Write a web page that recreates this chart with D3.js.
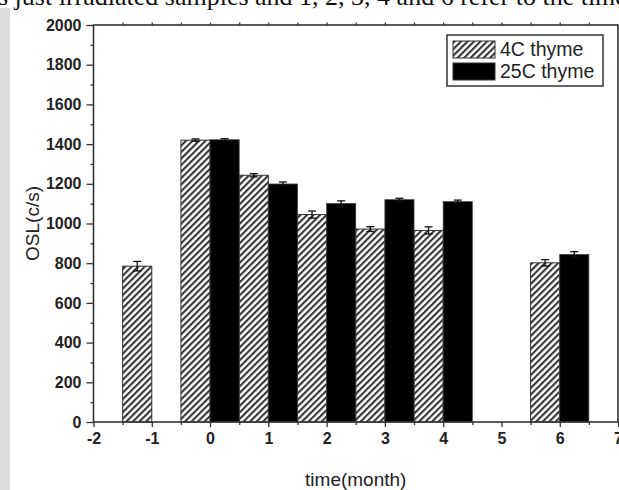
<!DOCTYPE html>
<html>
<head>
<meta charset="utf-8">
<script src="https://cdn.jsdelivr.net/npm/d3@7"></script>
<style>
  html, body { margin: 0; padding: 0; background: #fff; }
  svg { display: block; }
</style>
</head>
<body>
<svg id="chart" width="619" height="490"></svg>
<script>
// Sampling times (months) and OSL signal for the two storage temperatures
const months = [-1, 0, 1, 2, 3, 4, 6];
const cold = [785, 1420, 1243, 1045, 972, 965, 802];      // 4C thyme
const coldErr = [24, 6, 8, 18, 12, 18, 16];
const warm = [null, 1422, 1199, 1101, 1120, 1110, 844];   // 25C thyme
const warmErr = [null, 5, 10, 13, 7, 8, 14];
const seriesNames = ["4C thyme", "25C thyme"];
const xTicks = [-2, -1, 0, 1, 2, 3, 4, 5, 6, 7];
const yTicks = [0, 200, 400, 600, 800, 1000, 1200, 1400, 1600, 1800, 2000];
const captionText = "s just irradiated samples and 1, 2, 3, 4 and 6 refer to the time";

const svg = d3.select("#chart");
const ink = "#222";
const plotLeft = 93.5, plotRight = 618, plotTop = 25, plotBottom = 422;

const x = d3.scaleLinear().domain([-2, 7]).range([plotLeft, plotRight]);
const y = d3.scaleLinear().domain([0, 2000]).range([plotBottom, plotTop]);
const halfWidth = 0.5;

// page margin and running caption of the surrounding document
svg.append("rect").attr("x", 0).attr("y", 8).attr("width", 10).attr("height", 482).attr("fill", "#dcdcdc");
svg.append("text").attr("x", -2).attr("y", 5)
  .attr("font-family", "'Liberation Serif', 'Times New Roman', serif")
  .attr("font-size", 26).attr("fill", "#111").text(captionText);

// diagonal hatch used by the 4C series
const hs = 4.6;
const defs = svg.append("defs");
const pat = defs.append("pattern").attr("id", "hatch")
  .attr("patternUnits", "userSpaceOnUse").attr("width", hs).attr("height", hs)
  .attr("patternTransform", "rotate(45)");
pat.append("rect").attr("width", hs).attr("height", hs).attr("fill", "#fff");
pat.append("line").attr("x1", 1.1).attr("y1", 0).attr("x2", 1.1).attr("y2", hs)
  .attr("stroke", "#2a2a2a").attr("stroke-width", 2);

// bars
const coldData = months.map((m, i) => ({ m, v: cold[i], e: coldErr[i] }));
const warmData = months.map((m, i) => ({ m, v: warm[i], e: warmErr[i] })).filter(d => d.v != null);

const g = svg.append("g");
g.selectAll("rect.cold").data(coldData).join("rect").attr("class", "cold")
  .attr("x", d => x(d.m - halfWidth)).attr("width", d => x(d.m) - x(d.m - halfWidth))
  .attr("y", d => y(d.v)).attr("height", d => y(0) - y(d.v))
  .attr("fill", "url(#hatch)").attr("stroke", "#333").attr("stroke-width", 1);
g.selectAll("rect.warm").data(warmData).join("rect").attr("class", "warm")
  .attr("x", d => x(d.m)).attr("width", d => x(d.m + halfWidth) - x(d.m))
  .attr("y", d => y(d.v)).attr("height", d => y(0) - y(d.v))
  .attr("fill", "#000").attr("stroke", "#444").attr("stroke-width", 0.8);

// error bars
function errorBars(data, offset, cls) {
  const eg = g.selectAll("g." + cls).data(data).join("g").attr("class", cls);
  const cx = d => x(d.m + offset);
  eg.append("line").attr("x1", cx).attr("x2", cx)
    .attr("y1", d => y(d.v - d.e)).attr("y2", d => y(d.v + d.e))
    .attr("stroke", "#111").attr("stroke-width", 1.3);
  eg.append("line").attr("x1", d => cx(d) - 4).attr("x2", d => cx(d) + 4)
    .attr("y1", d => y(d.v + d.e)).attr("y2", d => y(d.v + d.e))
    .attr("stroke", "#111").attr("stroke-width", 1.3);
  eg.append("line").attr("x1", d => cx(d) - 4).attr("x2", d => cx(d) + 4)
    .attr("y1", d => y(d.v - d.e)).attr("y2", d => y(d.v - d.e))
    .attr("stroke", "#111").attr("stroke-width", 1.3);
}
errorBars(coldData, -halfWidth / 2, "ecold");
errorBars(warmData, halfWidth / 2, "ewarm");

// axes
const tickFont = "'Liberation Sans', Arial, sans-serif";
const xMinor = d3.range(-1.5, 7, 1);
const yMinor = d3.range(100, 2000, 200);
const plain = d => String(d);

const xAxis = svg.append("g").attr("transform", `translate(0,${plotBottom})`)
  .call(d3.axisBottom(x).tickValues(xTicks).tickSize(5).tickPadding(5).tickFormat(plain));
svg.append("g").attr("transform", `translate(0,${plotBottom})`)
  .call(d3.axisBottom(x).tickValues(xMinor).tickSize(3).tickFormat(""));
const yAxis = svg.append("g").attr("transform", `translate(${plotLeft},0)`)
  .call(d3.axisLeft(y).tickValues(yTicks).tickSize(7).tickPadding(5).tickFormat(plain));
svg.append("g").attr("transform", `translate(${plotLeft},0)`)
  .call(d3.axisLeft(y).tickValues(yMinor).tickSize(3).tickFormat(""));
svg.append("g").attr("transform", `translate(0,${plotTop})`)
  .call(d3.axisTop(x).tickValues(d3.range(-1.5, 7, 0.5)).tickSize(2.5).tickFormat(""));

svg.selectAll(".domain").remove();
svg.selectAll(".tick line").attr("stroke", "#333").attr("stroke-width", 1.3);
[xAxis, yAxis].forEach(a => a.selectAll(".tick text")
  .attr("font-family", tickFont).attr("font-size", 16).attr("font-weight", "bold").attr("fill", ink));
xAxis.selectAll(".tick text").attr("dy", "0.72em");

// frame
svg.append("rect").attr("x", plotLeft).attr("y", plotTop)
  .attr("width", plotRight - plotLeft).attr("height", plotBottom - plotTop)
  .attr("fill", "none").attr("stroke", "#333").attr("stroke-width", 1.6);

// axis titles
svg.append("text").attr("x", (plotLeft + plotRight) / 2).attr("y", 486).attr("text-anchor", "middle")
  .attr("font-family", tickFont).attr("font-size", 19).attr("fill", ink).text("time(month)");
svg.append("text").attr("transform", `translate(39,${(plotTop + plotBottom) / 2}) rotate(-90)`)
  .attr("text-anchor", "middle").attr("font-family", tickFont).attr("font-size", 19)
  .attr("fill", ink).text("OSL(c/s)");

// legend
const lg = svg.append("g");
lg.append("rect").attr("x", 447).attr("y", 35).attr("width", 156).attr("height", 51)
  .attr("fill", "#fff").attr("stroke", "#333").attr("stroke-width", 1.5);
const fills = ["url(#hatch)", "#000"];
seriesNames.forEach((name, i) => {
  const ry = 41 + i * 22;
  lg.append("rect").attr("x", 453).attr("y", ry).attr("width", 42).attr("height", 17)
    .attr("fill", fills[i]).attr("stroke", "#333").attr("stroke-width", 1);
  lg.append("text").attr("x", 500).attr("y", ry + 15)
    .attr("font-family", tickFont).attr("font-size", 19.5).attr("fill", ink).text(name);
});
</script>
</body>
</html>
